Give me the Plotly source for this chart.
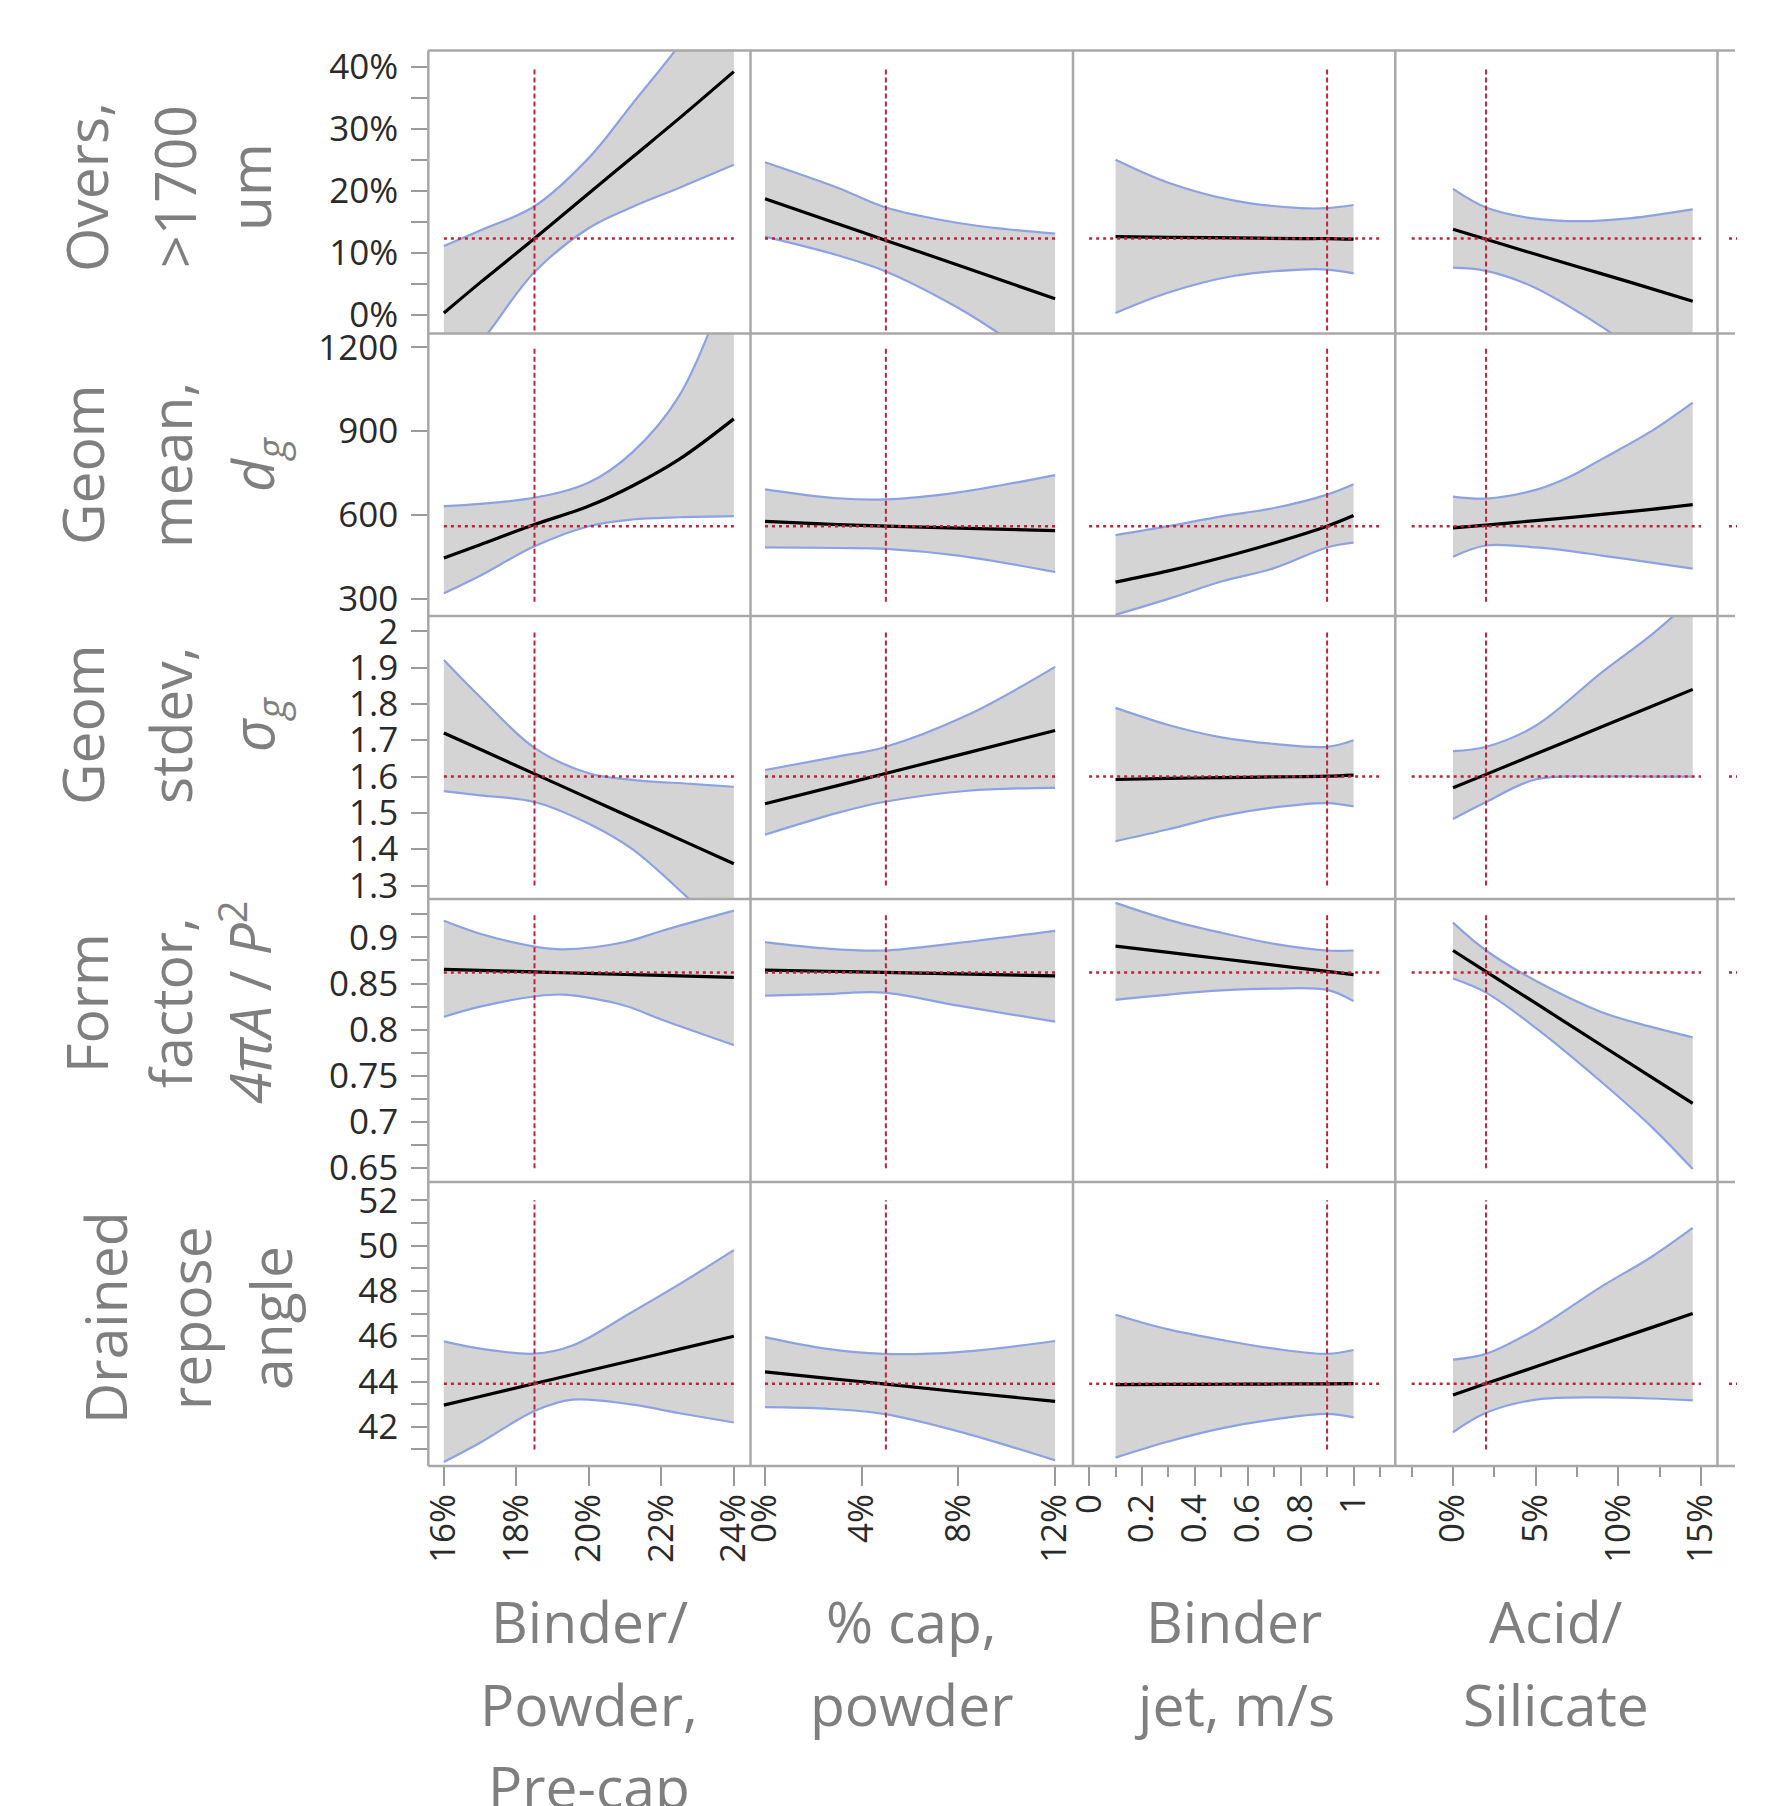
import plotly.graph_objects as go

# ---------------- data ----------------
FACTOR_TITLES = [["Binder/", "Powder,", "Pre-cap"], ["% cap,", "powder"],
                 ["Binder", "jet, m/s"], ["Acid/", "Silicate"]]
RESPONSE_TITLES = [["Overs,", ">1700", "um"],
                   ["Geom", "mean,", "<i>d<sub>g</sub></i>"],
                   ["Geom", "stdev,", "<i>σ<sub>g</sub></i>"],
                   ["Form", "factor,", "<i>4πA</i> / <i>P</i><sup>2</sup>"],
                   ["Drained", "repose", "angle"]]
FACTOR_CURRENT = [18.5, 5.0, 0.9, 2.0]
RESPONSE_CURRENT = [12.3, 560, 1.6, 0.862, 43.9]

# Row 1: Overs >1700 um (%)
R1C1_X = [16, 17, 18.5, 20, 21.2, 22.5, 24]
R1C1_FIT = [0.3, 5.2, 12.3, 19.6, 25.4, 31.7, 39.2]
R1C1_LO = [-10.5, -4.5, 6.9, 14.0, 17.4, 20.5, 24.2]
R1C1_HI = [11.1, 13.6, 17.5, 25.3, 34.0, 43.5, 56.0]
R1C2_X = [0, 3, 5, 8, 10, 12]
R1C2_FIT = [18.7, 14.7, 12.0, 8.0, 5.3, 2.6]
R1C2_LO = [12.6, 9.6, 7.0, 1.1, -3.8, -9.0]
R1C2_HI = [24.6, 20.5, 17.3, 14.8, 13.8, 13.1]
R1C3_X = [0.1, 0.3, 0.55, 0.8, 0.9, 1.0]
R1C3_FIT = [12.6, 12.5, 12.4, 12.3, 12.3, 12.2]
R1C3_LO = [0.3, 3.6, 6.3, 7.3, 7.3, 6.7]
R1C3_HI = [25.0, 21.3, 18.4, 17.2, 17.2, 17.7]
R1C4_X = [0, 2, 4.7, 7.75, 10.8, 14.5]
R1C4_FIT = [13.8, 12.2, 10.0, 7.6, 5.2, 2.2]
R1C4_LO = [7.6, 7.1, 4.7, 0.2, -5.2, -12.6]
R1C4_HI = [20.3, 17.3, 15.6, 15.1, 15.6, 17.0]

# Row 2: Geom mean d_g
R2C1_X = [16, 17, 18.5, 20, 21.2, 22.5, 24]
R2C1_FIT = [446, 494, 566, 632, 704, 800, 944]
R2C1_LO = [320, 383, 488, 560, 584, 592, 596]
R2C1_HI = [632, 640, 662, 716, 824, 1028, 1490]
R2C2_X = [0, 3, 5, 8, 12]
R2C2_FIT = [577, 566, 560, 553, 544]
R2C2_LO = [484, 482, 479, 455, 396]
R2C2_HI = [692, 660, 656, 681, 743]
R2C3_X = [0.1, 0.3, 0.5, 0.7, 0.9, 1.0]
R2C3_FIT = [360, 400, 447, 500, 560, 598]
R2C3_LO = [243, 300, 362, 410, 484, 501]
R2C3_HI = [528, 560, 595, 625, 673, 710]
R2C4_X = [0, 2, 5, 7, 9, 12, 14.5]
R2C4_FIT = [554, 564, 580, 591, 602, 620, 637]
R2C4_LO = [451, 491, 484, 472, 455, 430, 408]
R2C4_HI = [666, 659, 690, 735, 800, 900, 1002]

# Row 3: Geom stdev sigma_g
R3C1_X = [16, 17, 18.5, 20, 21.2, 22.8, 24]
R3C1_FIT = [1.72, 1.675, 1.6075, 1.54, 1.486, 1.414, 1.36]
R3C1_LO = [1.56, 1.548, 1.53, 1.47, 1.40, 1.26, 1.15]
R3C1_HI = [1.921, 1.819, 1.679, 1.609, 1.591, 1.58, 1.572]
R3C2_X = [0, 3, 4.9, 8.4, 12]
R3C2_FIT = [1.525, 1.575, 1.607, 1.666, 1.727]
R3C2_LO = [1.44, 1.50, 1.53, 1.561, 1.569]
R3C2_HI = [1.618, 1.655, 1.68, 1.77, 1.902]
R3C3_X = [0.1, 0.3, 0.5, 0.7, 0.9, 1.0]
R3C3_FIT = [1.592, 1.595, 1.597, 1.599, 1.601, 1.604]
R3C3_LO = [1.422, 1.455, 1.491, 1.515, 1.527, 1.518]
R3C3_HI = [1.789, 1.742, 1.708, 1.69, 1.682, 1.70]
R3C4_X = [0, 2, 5, 9, 12, 14.5]
R3C4_FIT = [1.569, 1.606, 1.662, 1.737, 1.793, 1.84]
R3C4_LO = [1.483, 1.53, 1.592, 1.60, 1.60, 1.60]
R3C4_HI = [1.67, 1.682, 1.74, 1.887, 1.99, 2.09]

# Row 4: Form factor 4piA/P^2
R4C1_X = [16, 17, 18.5, 19.3, 21, 22, 24]
R4C1_FIT = [0.8654, 0.8643, 0.8626, 0.8617, 0.8598, 0.8588, 0.8566]
R4C1_LO = [0.814, 0.825, 0.836, 0.838, 0.826, 0.811, 0.7833]
R4C1_HI = [0.918, 0.904, 0.890, 0.887, 0.895, 0.907, 0.929]
R4C2_X = [0, 2.5, 4.9, 8, 12]
R4C2_FIT = [0.8645, 0.8633, 0.862, 0.8604, 0.8584]
R4C2_LO = [0.837, 0.8385, 0.8402, 0.826, 0.8087]
R4C2_HI = [0.8949, 0.888, 0.8858, 0.894, 0.907]
R4C3_X = [0.1, 0.3, 0.5, 0.7, 0.9, 1.0]
R4C3_FIT = [0.8906, 0.8837, 0.8769, 0.870, 0.8631, 0.8597]
R4C3_LO = [0.8323, 0.838, 0.8425, 0.8445, 0.8432, 0.831]
R4C3_HI = [0.9374, 0.919, 0.905, 0.893, 0.8858, 0.8858]
R4C4_X = [0, 2, 5, 9, 12, 14.5]
R4C4_FIT = [0.8858, 0.863, 0.8287, 0.7829, 0.7486, 0.7201]
R4C4_LO = [0.8554, 0.8402, 0.802, 0.7431, 0.695, 0.649]
R4C4_HI = [0.916, 0.8858, 0.853, 0.819, 0.803, 0.7917]

# Row 5: Drained repose angle
R5C1_X = [16, 17, 18.5, 19.55, 21.16, 22.5, 24]
R5C1_FIT = [42.96, 43.34, 43.91, 44.31, 44.92, 45.43, 46.0]
R5C1_LO = [40.45, 41.3, 42.70, 43.2, 42.99, 42.6, 42.19]
R5C1_HI = [45.77, 45.45, 45.23, 45.59, 47.04, 48.3, 49.8]
R5C2_X = [0, 2.5, 4.9, 8, 12]
R5C2_FIT = [44.43, 44.15, 43.9, 43.55, 43.12]
R5C2_LO = [42.87, 42.8, 42.57, 41.8, 40.52]
R5C2_HI = [45.96, 45.45, 45.22, 45.3, 45.79]
R5C3_X = [0.1, 0.3, 0.5, 0.7, 0.9, 1.0]
R5C3_FIT = [43.86, 43.87, 43.88, 43.89, 43.9, 43.91]
R5C3_LO = [40.64, 41.35, 41.93, 42.33, 42.57, 42.42]
R5C3_HI = [46.95, 46.3, 45.84, 45.45, 45.22, 45.39]
R5C4_X = [0, 2, 5, 9, 12, 14.5]
R5C4_FIT = [43.41, 43.91, 44.65, 45.64, 46.38, 47.0]
R5C4_LO = [41.76, 42.62, 43.2, 43.3, 43.25, 43.17]
R5C4_HI = [44.97, 45.22, 46.3, 48.2, 49.5, 50.78]

PANELS = [
    [(R1C1_X, R1C1_FIT, R1C1_LO, R1C1_HI), (R1C2_X, R1C2_FIT, R1C2_LO, R1C2_HI),
     (R1C3_X, R1C3_FIT, R1C3_LO, R1C3_HI), (R1C4_X, R1C4_FIT, R1C4_LO, R1C4_HI)],
    [(R2C1_X, R2C1_FIT, R2C1_LO, R2C1_HI), (R2C2_X, R2C2_FIT, R2C2_LO, R2C2_HI),
     (R2C3_X, R2C3_FIT, R2C3_LO, R2C3_HI), (R2C4_X, R2C4_FIT, R2C4_LO, R2C4_HI)],
    [(R3C1_X, R3C1_FIT, R3C1_LO, R3C1_HI), (R3C2_X, R3C2_FIT, R3C2_LO, R3C2_HI),
     (R3C3_X, R3C3_FIT, R3C3_LO, R3C3_HI), (R3C4_X, R3C4_FIT, R3C4_LO, R3C4_HI)],
    [(R4C1_X, R4C1_FIT, R4C1_LO, R4C1_HI), (R4C2_X, R4C2_FIT, R4C2_LO, R4C2_HI),
     (R4C3_X, R4C3_FIT, R4C3_LO, R4C3_HI), (R4C4_X, R4C4_FIT, R4C4_LO, R4C4_HI)],
    [(R5C1_X, R5C1_FIT, R5C1_LO, R5C1_HI), (R5C2_X, R5C2_FIT, R5C2_LO, R5C2_HI),
     (R5C3_X, R5C3_FIT, R5C3_LO, R5C3_HI), (R5C4_X, R5C4_FIT, R5C4_LO, R5C4_HI)],
]

# ---------------- axes / styling ----------------
W, H = 1777, 1806
COL_EDGES = [428.3, 750.5, 1073.0, 1395.3, 1717.5]
ROW_EDGES = [50.5, 333.5, 616.0, 899.0, 1182.0, 1466.0]

Y_RANGES = [[-3.0, 42.6], [238.7, 1249.5], [1.263, 2.042], [0.635, 0.9416], [40.27, 52.81]]
Y_DTICK = [10, 300, 0.1, 0.05, 2]
Y_MINOR = [5, None, None, 0.025, 1]
Y_SUFFIX = ["%", "", "", "", ""]
X_RANGES = [[15.57, 24.46], [-0.6, 12.74], [-0.061, 1.158], [-3.49, 16.0]]
X_DTICK = [2, 4, 0.2, 5]
X_MINOR = [None, None, 0.1, 2.5]
X_SUFFIX = ["%", "%", "", "%"]
VREF_SPAN = [(-2.5, 40), (290, 1200), (1.3, 2.0), (0.65, 0.925), (41, 52)]
HREF_SPAN = [(16, 24), (0, 12), (0, 1.1), (-2.5, 15)]

BORDER = "#a8a8a8"
TICKC = "#9a9a9a"
BAND_FILL = "rgb(212,212,212)"
BAND_EDGE = "rgb(140,162,226)"
RED = "rgb(188,36,58)"
TITLE_C = "#7f7f7f"
FONT = "Open Sans, Noto Sans, sans-serif"
TICKFONT = dict(family=FONT, size=35, color="#2a2a2a")

fig = go.Figure()
layout_axes = {}
shapes = []

for r in range(5):
    for c in range(4):
        k = r * 4 + c + 1
        xa = "x" if k == 1 else f"x{k}"
        ya = "y" if k == 1 else f"y{k}"
        xs, fit, lo, hi = PANELS[r][c]
        fig.add_trace(go.Scatter(x=xs, y=lo, mode="lines", xaxis=xa, yaxis=ya,
                                 line=dict(color=BAND_EDGE, width=2.2, shape="spline"),
                                 showlegend=False, hoverinfo="skip"))
        fig.add_trace(go.Scatter(x=xs, y=hi, mode="lines", xaxis=xa, yaxis=ya,
                                 fill="tonexty", fillcolor=BAND_FILL,
                                 line=dict(color=BAND_EDGE, width=2.2, shape="spline"),
                                 showlegend=False, hoverinfo="skip"))
        fig.add_trace(go.Scatter(x=xs, y=fit, mode="lines", xaxis=xa, yaxis=ya,
                                 line=dict(color="black", width=3.2, shape="spline"),
                                 showlegend=False))

        bottom = (r == 4)
        left = (c == 0)
        xd = dict(domain=[COL_EDGES[c] / W, COL_EDGES[c + 1] / W], anchor=ya,
                  range=X_RANGES[c], showgrid=False, zeroline=False, showline=False,
                  automargin=False,
                  showticklabels=bottom, ticks="outside" if bottom else "",
                  tick0=0, dtick=X_DTICK[c], ticksuffix=X_SUFFIX[c],
                  tickangle=-90, tickfont=TICKFONT, ticklen=19, tickwidth=2,
                  tickcolor=TICKC, ticklabelstandoff=-6)
        if bottom and X_MINOR[c]:
            xd["minor"] = dict(dtick=X_MINOR[c], ticks="outside", ticklen=10,
                               tickwidth=2, tickcolor=TICKC, showgrid=False)
        yd = dict(domain=[1 - ROW_EDGES[r + 1] / H, 1 - ROW_EDGES[r] / H], anchor=xa,
                  range=Y_RANGES[r], showgrid=False, zeroline=False, showline=False,
                  automargin=False,
                  showticklabels=left, ticks="outside" if left else "",
                  tick0=0, dtick=Y_DTICK[r], ticksuffix=Y_SUFFIX[r],
                  tickfont=TICKFONT, ticklen=16, tickwidth=2, tickcolor=TICKC,
                  ticklabelstandoff=6)
        if left and Y_MINOR[r]:
            yd["minor"] = dict(dtick=Y_MINOR[r], ticks="outside", ticklen=16,
                               tickwidth=2, tickcolor=TICKC, showgrid=False)
        layout_axes["xaxis" if k == 1 else f"xaxis{k}"] = xd
        layout_axes["yaxis" if k == 1 else f"yaxis{k}"] = yd

        # current-setting reference lines
        shapes.append(dict(type="line", xref=xa, yref=ya, layer="above",
                           x0=FACTOR_CURRENT[c], x1=FACTOR_CURRENT[c],
                           y0=VREF_SPAN[r][0], y1=VREF_SPAN[r][1],
                           line=dict(color=RED, width=2, dash="5px,3px")))
        shapes.append(dict(type="line", xref=xa, yref=ya, layer="above",
                           x0=HREF_SPAN[c][0], x1=HREF_SPAN[c][1],
                           y0=RESPONSE_CURRENT[r], y1=RESPONSE_CURRENT[r],
                           line=dict(color=RED, width=2.4, dash="3px,4px")))
        if c == 3:
            # the dotted line continues into the cut-off column on the right
            shapes.append(dict(type="line", xref="paper", yref=ya, layer="above",
                               x0=1729 / W, x1=1737 / W,
                               y0=RESPONSE_CURRENT[r], y1=RESPONSE_CURRENT[r],
                               line=dict(color=RED, width=2.4, dash="3px,4px")))

# panel borders (single grid lines), plus stubs of the cut-off next column
for yy in ROW_EDGES:
    shapes.append(dict(type="line", xref="paper", yref="paper", layer="above",
                       x0=COL_EDGES[0] / W, x1=1735 / W, y0=1 - yy / H, y1=1 - yy / H,
                       line=dict(color=BORDER, width=2.5)))
for xx in COL_EDGES:
    shapes.append(dict(type="line", xref="paper", yref="paper", layer="above",
                       x0=xx / W, x1=xx / W,
                       y0=1 - ROW_EDGES[0] / H, y1=1 - ROW_EDGES[-1] / H,
                       line=dict(color=BORDER, width=2.5)))

annotations = []
# factor (x) titles
XT_CENTER = [(COL_EDGES[i] + COL_EDGES[i + 1]) / 2 for i in range(4)]
XT_LINE_Y = [1621, 1704, 1786]
for c, lines in enumerate(FACTOR_TITLES):
    for i, t in enumerate(lines):
        annotations.append(dict(text=t, xref="paper", yref="paper",
                                x=XT_CENTER[c] / W, y=1 - XT_LINE_Y[i] / H,
                                xanchor="center", yanchor="middle", showarrow=False,
                                font=dict(family=FONT, size=57, color=TITLE_C)))
# response (y) titles
YT_LINE_X = [[86, 174, 249], [82, 170, 255], [82, 170, 255], [86, 170, 246], [105, 189, 270]]
YT_CENTER_Y = [187, 465, 725, 1003, 1318]
for r, lines in enumerate(RESPONSE_TITLES):
    for i, t in enumerate(lines):
        annotations.append(dict(text=t, xref="paper", yref="paper",
                                x=YT_LINE_X[r][i] / W, y=1 - YT_CENTER_Y[r] / H,
                                xanchor="center", yanchor="middle", showarrow=False,
                                textangle=-90,
                                font=dict(family=FONT, size=57, color=TITLE_C)))

fig.update_layout(width=W, height=H, autosize=False,
                  margin=dict(l=0, r=0, t=0, b=0, autoexpand=False),
                  paper_bgcolor="white", plot_bgcolor="white",
                  showlegend=False, shapes=shapes, annotations=annotations,
                  **layout_axes)

fig.write_html("out.html",
               config={"displayModeBar": False},
               post_script="document.body.style.margin='0px';"
                           "document.body.style.overflow='hidden';")
